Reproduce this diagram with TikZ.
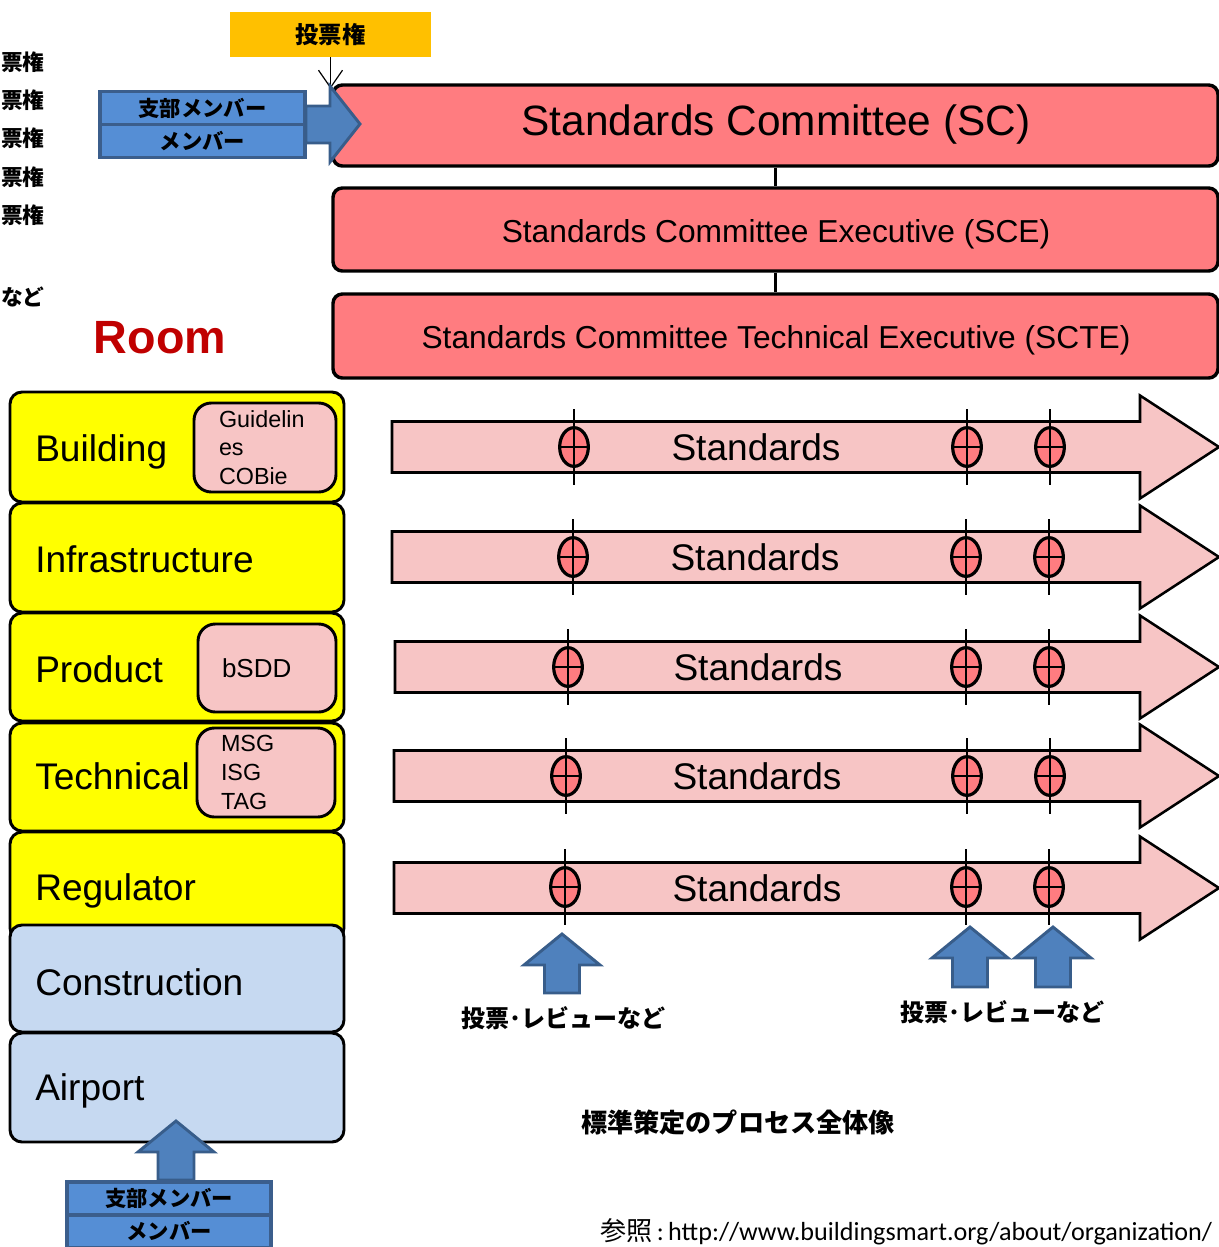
\documentclass[tikz,border=0pt]{standalone}
\usepackage{fontspec}
\setmainfont{Liberation Sans}
\newfontfamily\cjk{Noto Sans CJK JP}
\newfontfamily\carlito{Carlito}
\usetikzlibrary{shapes.geometric,arrows.meta}
\definecolor{scred}{RGB}{255,124,128}
\definecolor{pinkfill}{RGB}{247,197,197}
\definecolor{roomyellow}{RGB}{255,255,0}
\definecolor{roomblue}{RGB}{198,217,241}
\definecolor{voteyellow}{RGB}{255,192,0}
\definecolor{arrowblue}{RGB}{79,129,189}
\definecolor{arrowborder}{RGB}{56,93,138}
\definecolor{memberfill}{RGB}{85,142,213}
\definecolor{memberborder}{RGB}{59,94,140}
\definecolor{roomred}{RGB}{192,0,0}
\newcommand\stdmarker[3]{%
  \node[marker] (#1) at (#2,#3) {};
  \draw[crossline] (#1.west) -- (#1.east);
  \draw[crossline] ([yshift=28.5pt]#1.center) -- ([yshift=-28.5pt]#1.center);
}
\newcommand\stdarrow[4]{%
  \draw[stdarrowpath] (#2,#3-25.5) -- (1140,#3-25.5) -- (1140,#3-51.5) -- (1219,#3)
     -- (1140,#3+51.5) -- (1140,#3+25.5) -- (#2,#3+25.5) -- cycle;
  \node[stdtext] (#1) at (#4,#3+13) {Standards};
}
\newcommand\bluearrowup[3]{%
  \draw[bluearrow] (#1,#2) -- (#1+38,#2+31) -- (#1+17.5,#2+31) -- (#1+17.5,#3)
     -- (#1-17.5,#3) -- (#1-17.5,#2+31) -- (#1-38,#2+31) -- cycle;
}
\begin{document}
\begin{tikzpicture}[x=0.75pt,y=-0.75pt,
  sized/.style 2 args={minimum width=#1*0.75pt,minimum height=#2*0.75pt},
  scbox/.style={draw=black,line width=2.6pt,fill=scred,rounded corners=7pt,inner sep=0pt},
  sctext/.style={anchor=base,inner sep=0pt},
  roombox/.style={draw=black,line width=2.2pt,rounded corners=9pt,inner sep=0pt},
  subbox/.style={draw=black,line width=2.2pt,fill=pinkfill,rounded corners=13pt,align=left,inner ysep=0pt},
  roomlabel/.style={anchor=base west,font=\fontsize{27.8}{32}\selectfont,inner sep=0pt},
  stdarrowpath/.style={draw=black,line width=1.9pt,fill=pinkfill,line join=miter},
  stdtext/.style={anchor=base,font=\fontsize{27.8}{32}\selectfont,inner sep=0pt},
  marker/.style={ellipse,draw=black,line width=2.4pt,fill=scred,minimum width=21.5pt,minimum height=29pt,inner sep=0pt},
  crossline/.style={draw=black,line width=1.8pt},
  bluearrow/.style={fill=arrowblue,draw=arrowborder,line width=2.2pt,line join=miter},
  memberbox/.style={fill=memberfill,draw=memberborder,line width=2.6pt,inner sep=0pt,font=\cjk\bfseries\fontsize{16}{18}\selectfont},
  cjkbold/.style={font=\cjk\bfseries\fontsize{#1}{#1}\selectfont,inner sep=0pt},
]
\useasboundingbox (0,0) rectangle (1219,1247);
\clip (0,0) rectangle (1219,1247);

% left texts
\node[cjkbold=16.3,anchor=west] (lt1) at (1,62) {票権};
\node[cjkbold=16.3,anchor=west] (lt2) at (1,100) {票権};
\node[cjkbold=16.3,anchor=west] (lt3) at (1,138) {票権};
\node[cjkbold=16.3,anchor=west] (lt4) at (1,177) {票権};
\node[cjkbold=16.3,anchor=west] (lt5) at (1,215) {票権};
\node[cjkbold=16.3,anchor=west] (lt6) at (1,297) {など};

% committees
\node[scbox,sized={885}{81}] (sc) at (775.5,125.5) {};
\node[scbox,sized={885}{83}] (sce) at (775.5,229.5) {};
\node[scbox,sized={885}{84}] (scte) at (775.5,336) {};
\node[sctext,font=\fontsize{31.8}{36}\selectfont] (scT) at (776,135) {Standards Committee (SC)};
\node[sctext,font=\fontsize{23.8}{28}\selectfont] (sceT) at (776,242) {Standards Committee Executive (SCE)};
\node[sctext,font=\fontsize{23.8}{28}\selectfont] (scteT) at (776,348) {Standards Committee Technical Executive (SCTE)};
\draw[line width=2.2pt] (sc.south) -- (sce.north);
\draw[line width=2.2pt] (sce.south) -- (scte.north);

% vote box and arrow
\node[fill=voteyellow,sized={201}{45},cjkbold=17.5] (vote) at (330.5,34.5) {投票権};
\draw[line width=0.9pt,-{Straight Barb[length=13pt,width=18pt,line width=0.9pt]}] (vote.south) -- ([yshift=-4pt]vote.south |- sc.north);

% member boxes top
\node[memberbox,sized={205}{33}] (mem1) at (202.5,108) {支部メンバー};
\node[memberbox,sized={205}{33}] (mem2) at (202.5,141) {メンバー};
\draw[bluearrow] (306,106) -- (330,106) -- (330,86) -- (360,124) -- (330,162) -- (330,143) -- (306,143) -- cycle;

% Room
\node[font=\bfseries\fontsize{35}{40}\selectfont,text=roomred,inner sep=0pt] (room) at (160,338) {Room};

% room boxes
\node[roombox,fill=roomyellow,sized={334}{110}] (building) at (177,447) {};
\node[roombox,fill=roomyellow,sized={334}{109}] (infra) at (177,557.5) {};
\node[roombox,fill=roomyellow,sized={334}{108}] (product) at (177,667) {};
\node[roombox,fill=roomyellow,sized={334}{108}] (technical) at (177,777) {};
\node[roombox,fill=roomyellow,sized={334}{108}] (regulator) at (177,886) {};
\node[roombox,fill=roomblue,sized={334}{107}] (construction) at (177,978.5) {};
\node[roombox,fill=roomblue,sized={334}{109}] (airport) at (177,1087.5) {};

\node[roomlabel] (buildingT) at (35,461) {Building};
\node[roomlabel] (infraT) at (35,572) {Infrastructure};
\node[roomlabel] (productT) at (35,682) {Product};
\node[roomlabel] (technicalT) at (35,789) {Technical};
\node[roomlabel] (regulatorT) at (35,900) {Regulator};
\node[roomlabel] (constructionT) at (35,995) {Construction};
\node[roomlabel] (airportT) at (35,1100) {Airport};

% sub boxes
\node[subbox,sized={142}{89},inner xsep=18.75pt,text width=69pt,font=\fontsize{17.5}{21.4}\selectfont] (guide) at (265,447.5) {Guidelin\\es\\COBie};
\node[subbox,sized={138}{88},inner xsep=18pt,text width=67.5pt,font=\fontsize{19.5}{22}\selectfont] (bsdd) at (267,668) {bSDD};
\node[subbox,sized={138}{89},inner xsep=18pt,text width=67.5pt,font=\fontsize{17.5}{21.8}\selectfont] (msg) at (266,772.5) {MSG\\ISG\\TAG};

% standards arrows
\stdarrow{s1}{392}{447}{756}
\stdarrow{s2}{392}{557}{755}
\stdarrow{s3}{395}{667}{758}
\stdarrow{s4}{394}{776}{757}
\stdarrow{s5}{394}{888}{757}

\stdmarker{m11}{574}{447}
\stdmarker{m12}{967}{447}
\stdmarker{m13}{1050}{447}
\stdmarker{m21}{573}{557}
\stdmarker{m22}{966}{557}
\stdmarker{m23}{1049}{557}
\stdmarker{m31}{568}{667}
\stdmarker{m32}{966}{667}
\stdmarker{m33}{1049}{667}
\stdmarker{m41}{566}{776}
\stdmarker{m42}{967}{776}
\stdmarker{m43}{1050}{776}
\stdmarker{m51}{565}{887}
\stdmarker{m52}{966}{887}
\stdmarker{m53}{1049}{887}

% up arrows and labels
\bluearrowup{562}{934}{993}
\bluearrowup{970}{927}{987}
\bluearrowup{1053}{927}{987}
\node[cjkbold=18] (lab1) at (563,1018) {投票･レビューなど};
\node[cjkbold=18] (lab2) at (1002,1012) {投票･レビューなど};

% bottom member box
\draw[bluearrow] (176,1121) -- (214,1152) -- (194,1152) -- (194,1180) -- (158,1180) -- (158,1152) -- (138,1152) -- cycle;
\node[memberbox,sized={204}{33}] (mem3) at (169,1198.5) {支部メンバー};
\node[memberbox,sized={204}{33}] (mem4) at (169,1231.5) {メンバー};

% title and reference
\node[cjkbold=19.6] (title) at (738,1123) {標準策定のプロセス全体像};
\node[anchor=west,inner sep=0pt,font=\fontsize{19.6}{24}\selectfont] (ref) at (600,1232) {{\cjk 参照}{\carlito\,:\,http://www.buildingsmart.org/about/organization/}};
\end{tikzpicture}
\end{document}
